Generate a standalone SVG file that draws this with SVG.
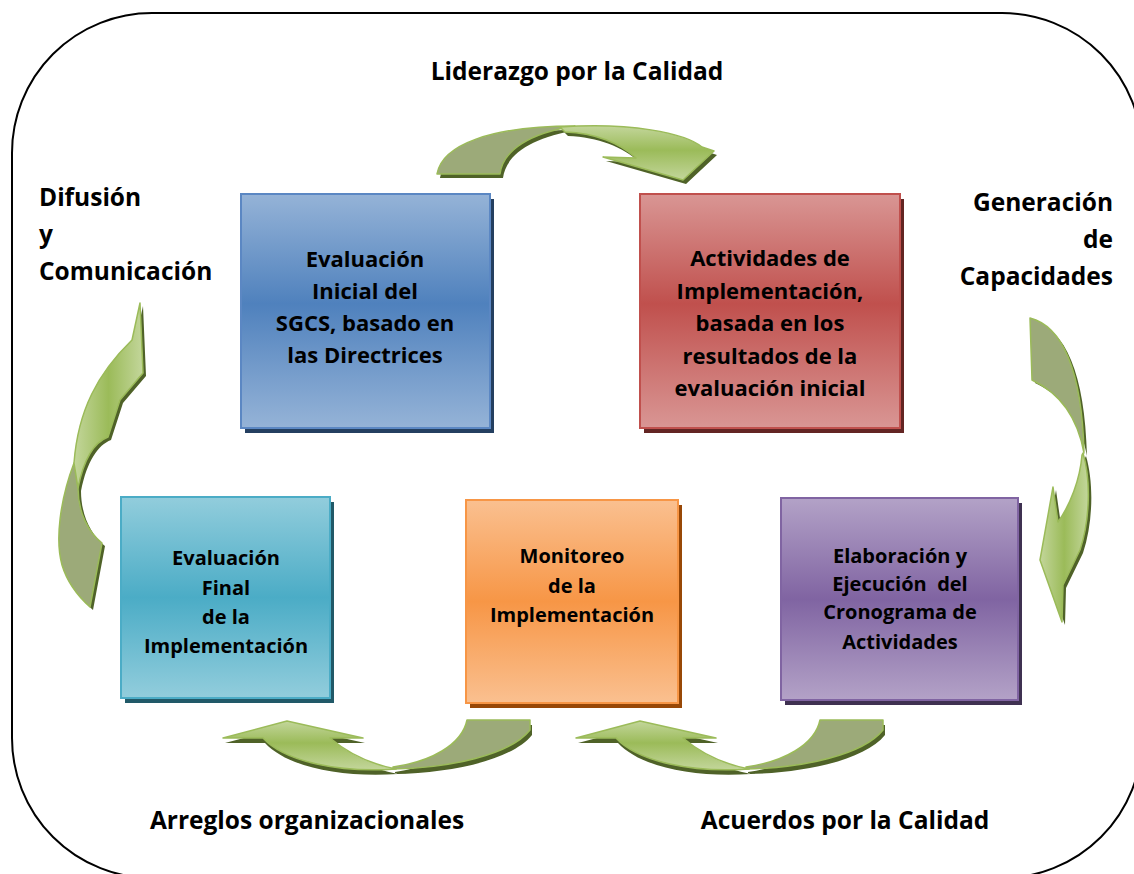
<svg xmlns="http://www.w3.org/2000/svg" width="1134" height="874" viewBox="0 0 1134 874">
<defs>
<style>
.lbl{font-family:"Open Sans","Liberation Sans",sans-serif;font-weight:700;font-size:24.5px;fill:#000}
.bt{font-family:"Open Sans","Liberation Sans",sans-serif;font-weight:700;font-size:22px;fill:#000;text-anchor:middle}
.bs{font-family:"Open Sans","Liberation Sans",sans-serif;font-weight:700;font-size:20px;fill:#000;text-anchor:middle}
.sh{fill:#4f6228}
.back{fill:#9caa79;stroke:#9bbb59;stroke-width:1.5;stroke-linejoin:round}
.frontV{fill:url(#gV);stroke:#9bbb59;stroke-width:1.5;stroke-linejoin:round}
.frontH{fill:url(#gH);stroke:#9bbb59;stroke-width:1.5;stroke-linejoin:round}
</style>
<linearGradient id="gV" x1="0" y1="0" x2="0" y2="1">
<stop offset="0" stop-color="#c3d69b"/><stop offset="0.45" stop-color="#9bbb59"/><stop offset="1" stop-color="#c3d69b"/>
</linearGradient>
<linearGradient id="gH" x1="0" y1="0" x2="1" y2="0">
<stop offset="0" stop-color="#c3d69b"/><stop offset="0.5" stop-color="#9bbb59"/><stop offset="1" stop-color="#c3d69b"/>
</linearGradient>
<linearGradient id="gBlue" x1="0" y1="0" x2="0" y2="1">
<stop offset="0" stop-color="#95b3d7"/><stop offset="0.47" stop-color="#4f81bd"/><stop offset="1" stop-color="#95b3d7"/>
</linearGradient>
<linearGradient id="gRed" x1="0" y1="0" x2="0" y2="1">
<stop offset="0" stop-color="#d99694"/><stop offset="0.47" stop-color="#c0504d"/><stop offset="1" stop-color="#d99694"/>
</linearGradient>
<linearGradient id="gTeal" x1="0" y1="0" x2="0" y2="1">
<stop offset="0" stop-color="#92cddc"/><stop offset="0.5" stop-color="#4bacc6"/><stop offset="1" stop-color="#92cddc"/>
</linearGradient>
<linearGradient id="gOrange" x1="0" y1="0" x2="0" y2="1">
<stop offset="0" stop-color="#fac090"/><stop offset="0.5" stop-color="#f79646"/><stop offset="1" stop-color="#fac090"/>
</linearGradient>
<linearGradient id="gPurple" x1="0" y1="0" x2="0" y2="1">
<stop offset="0" stop-color="#b3a2c7"/><stop offset="0.5" stop-color="#8064a2"/><stop offset="1" stop-color="#b3a2c7"/>
</linearGradient>
<g id="arrowBottom">
<path class="sh" transform="translate(2,5)" d="M263,738 L223,738 L287,721 L363,738 L330,738 C350,755 370,764 396,769 C340,773 285,762 263,738 Z M393,769 C450,768 510,755 530,730 L530,720 L467,720 C462,745 430,762 393,767 Z"/>
<path class="back" d="M393,769 C450,768 510,755 530,730 L530,720 L467,720 C462,745 430,762 393,767 Z"/>
<path class="frontV" d="M263,738 L223,738 L287,721 L363,738 L330,738 C350,755 370,764 396,769 C340,773 285,762 263,738 Z"/>
</g>
</defs>

<rect x="12" y="13" width="1130" height="865" rx="140" ry="140" fill="#fff" stroke="#000" stroke-width="2"/>

<g id="connectors">
<g id="arrow-top">
<path class="sh" transform="translate(3,4)" d="M437,174 C442,145 490,126 575,126 C530,133 503,150 500,174 Z M560,127 C630,122 685,133 702,147 L714,151 L683,180 L603,157 L636,158 C620,143 595,133 565,132 Z"/>
<path class="back" d="M437,174 C442,145 490,126 575,126 C530,133 503,150 500,174 Z"/>
<path class="frontV" d="M560,127 C630,122 685,133 702,147 L714,151 L683,180 L603,157 L636,158 C620,143 595,133 565,132 Z"/>
</g>
<g id="arrow-right">
<path class="sh" transform="translate(3,3)" d="M1030,318 C1062,326 1082,370 1084,453 C1078,420 1062,394 1032,380 Z M1083,453 C1091,480 1090,520 1080,550 L1063,585 L1062,622 L1040,560 L1053,487 L1058,522 C1070,505 1080,480 1082,455 Z"/>
<path class="back" d="M1030,318 C1062,326 1082,370 1084,453 C1078,420 1062,394 1032,380 Z"/>
<path class="frontH" d="M1083,453 C1091,480 1090,520 1080,550 L1063,585 L1062,622 L1040,560 L1053,487 L1058,522 C1070,505 1080,480 1082,455 Z"/>
</g>
<g id="arrow-left">
<path class="sh" transform="translate(3,3)" d="M74,463 C60,500 55,540 62,565 C68,585 80,598 90,607 L102,543 C88,532 78,512 78,488 Z M74,463 C78,410 98,373 132,340 L140,303 L143,373 L120,400 L108,437 C95,442 84,458 78,488 Z"/>
<path class="back" d="M74,463 C60,500 55,540 62,565 C68,585 80,598 90,607 L102,543 C88,532 78,512 78,488 Z"/>
<path class="frontH" d="M74,463 C78,410 98,373 132,340 L140,303 L143,373 L120,400 L108,437 C95,442 84,458 78,488 Z"/>
</g>
<g id="arrow-bottom-left"><use href="#arrowBottom"/></g>
<g id="arrow-bottom-right"><use href="#arrowBottom" transform="translate(353,0)"/></g>
</g>

<g id="node-blue">
<rect x="245" y="199" width="249" height="234" fill="#243f60"/>
<rect x="241" y="194" width="249" height="234" fill="url(#gBlue)" stroke="#5b87c3" stroke-width="2"/>
<text class="bt" x="365" y="267">Evaluación</text>
<text class="bt" x="365" y="299">Inicial del</text>
<text class="bt" x="365" y="331">SGCS, basado en</text>
<text class="bt" x="365" y="363">las Directrices</text>
</g>

<g id="node-red">
<rect x="644" y="199" width="260" height="234" fill="#632523"/>
<rect x="640" y="194" width="260" height="234" fill="url(#gRed)" stroke="#c0504d" stroke-width="2"/>
<text class="bt" x="770" y="266">Actividades de</text>
<text class="bt" x="770" y="299">Implementación,</text>
<text class="bt" x="770" y="331">basada en los</text>
<text class="bt" x="770" y="364">resultados de la</text>
<text class="bt" x="770" y="396">evaluación inicial</text>
</g>

<g id="node-teal">
<rect x="125" y="502" width="209" height="201" fill="#215968"/>
<rect x="121" y="497" width="209" height="201" fill="url(#gTeal)" stroke="#4bacc6" stroke-width="2"/>
<text class="bs" x="226" y="565">Evaluación</text>
<text class="bs" x="226" y="595">Final</text>
<text class="bs" x="226" y="624">de la</text>
<text class="bs" x="226" y="653">Implementación</text>
</g>

<g id="node-orange">
<rect x="470" y="505" width="212" height="203" fill="#984807"/>
<rect x="466" y="500" width="212" height="203" fill="url(#gOrange)" stroke="#f79646" stroke-width="2"/>
<text class="bs" x="572" y="563">Monitoreo</text>
<text class="bs" x="572" y="593">de la</text>
<text class="bs" x="572" y="622">Implementación</text>
</g>

<g id="node-purple">
<rect x="785" y="503" width="237" height="202" fill="#3f3151"/>
<rect x="781" y="498" width="237" height="202" fill="url(#gPurple)" stroke="#8064a2" stroke-width="2"/>
<text class="bs" x="900" y="563">Elaboración y</text>
<text class="bs" x="900" y="591" xml:space="preserve">Ejecución  del</text>
<text class="bs" x="900" y="619">Cronograma de</text>
<text class="bs" x="900" y="649">Actividades</text>
</g>

<g id="labels">
<text class="lbl" x="577" y="80" text-anchor="middle">Liderazgo por la Calidad</text>
<text class="lbl" x="39" y="206">Difusión</text>
<text class="lbl" x="39" y="243">y</text>
<text class="lbl" x="39" y="280">Comunicación</text>
<text class="lbl" x="1113" y="211" text-anchor="end">Generación</text>
<text class="lbl" x="1113" y="248" text-anchor="end">de</text>
<text class="lbl" x="1113" y="285" text-anchor="end">Capacidades</text>
<text class="lbl" x="307" y="829" text-anchor="middle">Arreglos organizacionales</text>
<text class="lbl" x="845" y="829" text-anchor="middle">Acuerdos por la Calidad</text>
</g>
</svg>
